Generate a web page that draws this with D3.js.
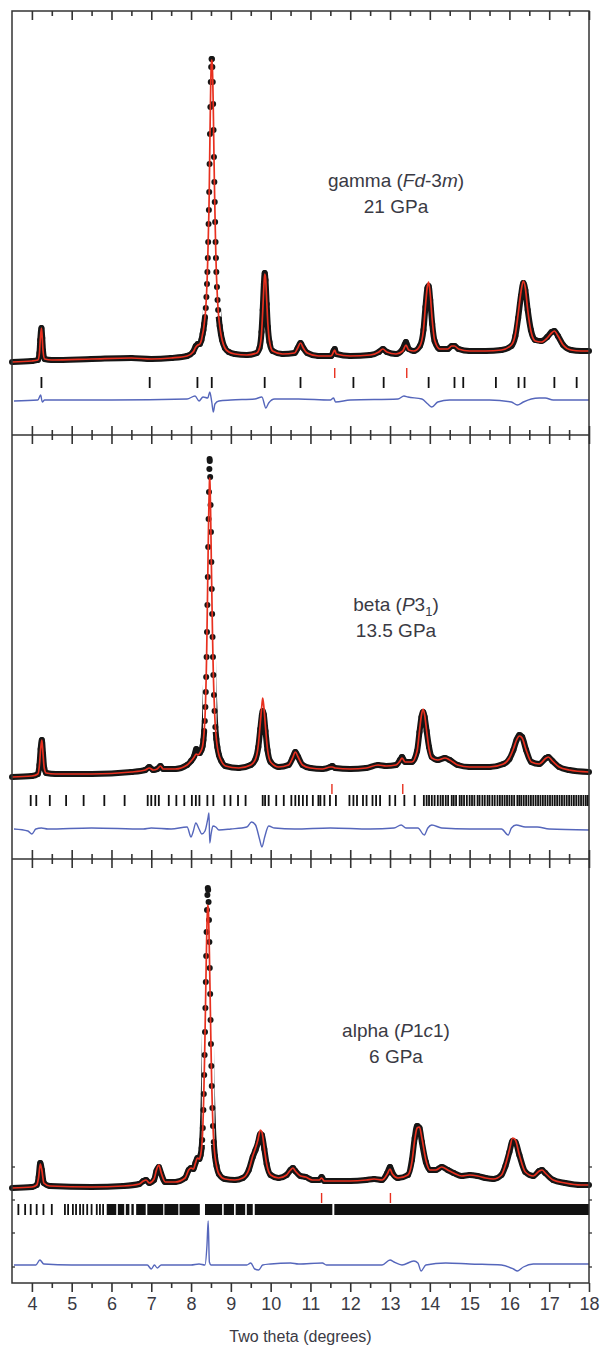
<!DOCTYPE html>
<html>
<head>
<meta charset="utf-8" />
<title>Two theta patterns</title>
<style>
  body { margin: 0; background: #fff; }
  svg text { font-family: "Liberation Sans", Arial, sans-serif; fill: #3a3a44; }
</style>
<script src="https://cdn.jsdelivr.net/npm/d3@7"></script>
</head>
<body>
<script>
// ---------- data (two theta in degrees, intensity in arbitrary units) ----------
var xTicks = [4, 5, 6, 7, 8, 9, 10, 11, 12, 13, 14, 15, 16, 17, 18];
var xMinorTicks = [4.5, 5.5, 6.5, 7.5, 8.5, 9.5, 10.5, 11.5, 12.5, 13.5, 14.5, 15.5, 16.5, 17.5];

// [two theta, observed, calculated]
var gammaProfile = [
  [3.50,0,0],[4.00,1,1],[4.15,2,2],[4.19,9,9],[4.21,22,22],[4.24,34,34],[4.26,24,24],[4.28,11,11],[4.32,3,3],[4.50,2,2],
  [5.50,3,3],[6.50,4,4],[7.00,3,3],[7.50,4,4],[7.90,6,6],[8.05,10,10],[8.12,16,15],[8.17,18,17],[8.22,18,18],
  [8.26,22,22],[8.29,28,28],[8.31,32,32],[8.33,38,38],[8.35,45,45],[8.37,54,54],[8.385,65,65],[8.40,78,78],[8.41,90,90],
  [8.42,104,104],[8.43,120,120],[8.44,138,137],[8.448,152,150],[8.456,170,168],[8.465,198,196],[8.475,228,226],[8.485,255,254],
  [8.495,280,279],[8.505,295,296],[8.515,303,302],[8.525,303,302],[8.535,295,296],[8.545,280,282],[8.555,258,262],
  [8.565,232,236],[8.575,205,208],[8.585,180,182],[8.595,160,160],[8.605,140,140],[8.615,120,120],[8.625,104,104],
  [8.635,90,90],[8.65,75,75],[8.665,62,62],[8.68,52,52],[8.70,43,43],[8.72,36,36],[8.75,28,28],[8.78,22,22],[8.85,14,14],
  [8.95,10,10],[9.10,8,8],[9.40,7,7],[9.65,9,9],[9.72,14,14],[9.77,30,28],[9.80,52,50],[9.83,78,76],
  [9.85,89,88],[9.87,82,85],[9.90,58,62],[9.93,35,38],[9.97,20,21],[10.05,11,11],[10.30,8,8],[10.60,9,9],[10.68,14,14],
  [10.75,19,19],[10.82,14,14],[10.92,9,9],[11.20,6,6],[11.52,6,6],[11.58,11,10],[11.61,13,12],[11.65,8,8],[12.00,6,6],
  [12.50,7,7],[12.72,10,10],[12.82,13,13],[12.92,10,10],[13.15,8,8],[13.32,13,11],[13.40,20,17],[13.47,13,12],[13.60,11,11],
  [13.75,16,16],[13.84,32,32],[13.89,55,56],[13.94,74,76],[13.97,76,80],[14.01,62,68],[14.06,38,42],[14.12,21,22],[14.25,13,13],
  [14.45,13,13],[14.55,16,16],[14.62,16,16],[14.72,13,13],[15.00,11,11],[15.40,11,11],[15.80,12,12],[16.05,16,17],[16.15,26,28],
  [16.22,44,48],[16.29,66,70],[16.35,79,81],[16.40,72,74],[16.46,52,52],[16.54,32,31],[16.65,22,21],[16.80,21,20],[16.95,25,24],
  [17.06,30,29],[17.13,31,31],[17.22,26,26],[17.35,17,17],[17.55,12,12],[17.80,11,11],[18.00,11,11]
];
var gammaDiff = [
  [3.55,-1],[4.15,0],[4.22,5],[4.26,-2],[4.32,0],[6.00,0],[7.90,1],[8.10,4],[8.20,-1],[8.30,3],[8.42,2],[8.47,8],[8.52,-2],
  [8.56,-12],[8.60,-4],[8.70,-1],[9.00,0],[9.60,1],[9.78,3],[9.88,-8],[9.95,-3],[10.10,1],[10.70,1],[11.50,0],[11.58,2],
  [11.63,-2],[12.00,0],[13.20,1],[13.35,4],[13.45,3],[13.80,1],[13.95,-4],[14.05,-7],[14.20,-2],[14.50,0],[15.50,0],[16.05,-2],
  [16.20,-5],[16.35,-2],[16.55,1],[16.75,2],[16.90,2],[17.10,0],[18.00,0]
];
var gammaTicks = [4.24, 6.96, 8.16, 8.52, 9.85, 10.75, 12.08, 12.84, 13.97, 14.62, 14.84, 15.66, 16.23, 16.38, 17.13, 17.69];
var gammaRedTicks = [11.61, 13.42];

var betaProfile = [
  [3.50,0,0],[4.00,1,1],[4.15,3,3],[4.19,12,12],[4.22,28,28],[4.25,37,37],[4.28,23,23],[4.31,9,9],[4.36,4,4],[4.60,3,3],
  [5.50,3,3],[6.50,5,5],[6.85,7,7],[6.95,10,9],[7.05,7,7],[7.15,8,8],[7.23,11,11],[7.30,8,8],[7.60,8,8],[7.90,12,12],
  [8.00,16,16],[8.08,21,20],[8.13,28,23],[8.18,24,22],[8.22,24,24],[8.26,27,27],[8.29,31,31],[8.31,37,37],[8.33,46,46],
  [8.345,56,56],[8.36,70,70],[8.37,85,85],[8.38,100,100],[8.39,120,120],[8.40,145,145],[8.41,172,172],[8.42,200,200],
  [8.43,230,229],[8.44,258,255],[8.45,285,276],[8.46,308,292],[8.465,318,299],[8.47,316,298],[8.48,300,288],[8.49,272,268],
  [8.50,245,242],[8.51,215,214],[8.52,188,188],[8.53,163,163],[8.54,140,140],[8.55,120,120],[8.56,102,102],[8.575,82,82],
  [8.59,66,66],[8.61,50,50],[8.635,38,38],[8.66,30,30],[8.70,22,22],[8.76,16,16],[8.86,11,11],[9.20,9,9],[9.50,12,12],
  [9.62,18,18],[9.69,30,32],[9.74,48,54],[9.78,62,72],[9.80,66,79],[9.83,62,70],[9.87,46,50],[9.92,27,28],[10.00,15,15],
  [10.20,10,10],[10.45,12,12],[10.55,19,19],[10.62,25,25],[10.69,20,20],[10.80,12,12],[11.00,9,9],[11.30,8,8],[11.50,10,10],
  [11.55,11,10],[11.62,9,9],[12.00,8,8],[12.40,9,9],[12.70,12,12],[12.90,11,11],[13.15,12,12],[13.25,17,16],[13.30,20,19],
  [13.38,15,15],[13.55,15,15],[13.68,26,26],[13.74,45,46],[13.79,60,62],[13.83,65,68],[13.87,60,62],[13.92,46,46],[13.98,30,28],
  [14.05,20,19],[14.20,17,17],[14.38,19,19],[14.50,17,17],[14.70,12,12],[15.00,10,10],[15.50,10,10],[15.85,13,13],[16.00,18,19],
  [16.10,27,28],[16.18,37,37],[16.25,42,41],[16.32,40,39],[16.42,27,27],[16.55,15,15],[16.75,13,13],[16.92,19,19],[16.98,20,20],
  [17.08,16,16],[17.25,10,10],[17.50,7,7],[18.00,5,5]
];
var betaDiff = [
  [3.55,0],[3.90,-2],[4.00,-5],[4.10,0],[4.24,1],[4.40,0],[5.50,1],[6.80,0],[7.00,1],[7.50,0],[7.90,2],[8.00,-8],[8.05,-3],
  [8.12,6],[8.20,0],[8.27,-5],[8.35,-2],[8.42,10],[8.45,16],[8.47,-14],[8.50,-6],[8.55,3],[8.62,2],[8.70,-1],[9.00,0],[9.40,2],
  [9.52,7],[9.62,4],[9.72,-10],[9.78,-18],[9.85,-8],[9.95,3],[10.10,1],[10.60,0],[11.50,1],[12.50,0],[13.10,1],[13.28,4],
  [13.40,1],[13.70,1],[13.86,-6],[13.95,1],[14.05,4],[14.30,1],[15.00,0],[15.80,0],[15.97,-6],[16.05,1],[16.17,4],[16.40,2],
  [16.70,2],[17.00,0],[18.00,-1]
];
var betaTicks = [
  3.97, 4.11, 4.45, 4.86, 5.30, 5.82, 6.33, 6.91, 7.00, 7.10, 7.19, 7.44, 7.63, 7.83, 8.02, 8.12, 8.21, 8.41, 8.56, 8.84,
  8.99, 9.18, 9.37, 9.80, 9.86, 9.95, 10.14, 10.33, 10.52, 10.62, 10.71, 10.81, 10.91, 11.06, 11.20, 11.25, 11.35, 11.49,
  11.64, 11.98, 12.08, 12.17, 12.32, 12.41, 12.56, 12.65, 12.75, 12.99, 13.13, 13.36, 13.62, 13.85, 13.92, 13.98, 14.05,
  14.12, 14.20, 14.27, 14.33, 14.40, 14.46, 14.55, 14.60, 14.66, 14.75, 14.80, 14.86, 14.93, 15.00, 15.06, 15.12, 15.20,
  15.25, 15.32, 15.38, 15.45, 15.50, 15.57, 15.63, 15.70, 15.76, 15.82, 15.88, 15.94, 16.00, 16.06, 16.12, 16.20, 16.25,
  16.30, 16.36, 16.42, 16.48, 16.54, 16.60, 16.66, 16.72, 16.78, 16.84, 16.90, 16.96, 17.02, 17.08, 17.14, 17.20, 17.26,
  17.32, 17.38, 17.44, 17.50, 17.56, 17.62, 17.68, 17.74, 17.80, 17.86, 17.92, 17.97
];
var betaRedTicks = [11.54, 13.32];

var alphaProfile = [
  [3.50,2,2],[4.00,3,3],[4.12,5,5],[4.17,13,13],[4.21,27,26],[4.25,20,20],[4.30,7,7],[4.45,4,4],[5.50,3,3],[6.30,4,4],
  [6.70,6,6],[6.80,9,9],[6.87,10,10],[6.95,7,7],[7.07,10,11],[7.13,19,20],[7.19,23,25],[7.25,16,17],[7.35,8,8],[7.60,8,8],
  [7.85,12,12],[7.94,20,20],[8.00,22,22],[8.06,21,21],[8.11,27,27],[8.16,32,32],[8.21,31,31],[8.24,35,35],[8.265,42,42],
  [8.28,50,50],[8.295,62,62],[8.31,80,80],[8.32,96,96],[8.33,115,114],[8.34,135,133],[8.35,158,155],[8.36,182,178],
  [8.37,208,202],[8.38,234,226],[8.39,258,248],[8.40,280,266],[8.41,295,279],[8.42,302,285],[8.43,300,283],[8.44,288,274],
  [8.45,270,258],[8.46,248,238],[8.47,222,215],[8.48,196,192],[8.49,170,168],[8.50,146,145],[8.51,124,124],[8.52,104,104],
  [8.535,82,82],[8.55,64,64],[8.57,48,48],[8.60,34,34],[8.64,24,24],[8.70,16,16],[8.85,11,11],[9.10,10,10],[9.30,12,12],
  [9.45,20,20],[9.55,33,34],[9.62,40,42],[9.68,47,50],[9.74,56,60],[9.78,55,58],[9.84,41,42],[9.90,26,26],[10.00,15,15],
  [10.20,12,12],[10.40,15,15],[10.50,20,20],[10.56,22,22],[10.62,19,19],[10.75,14,14],[10.88,13,13],[11.05,10,10],[11.22,10,10],
  [11.28,13,12],[11.35,9,9],[11.60,9,9],[12.00,9,9],[12.40,10,10],[12.60,11,11],[12.80,10,10],[12.93,17,16],[13.00,23,21],
  [13.06,17,16],[13.20,12,12],[13.45,15,15],[13.55,30,28],[13.62,52,50],[13.68,64,62],[13.74,62,63],[13.80,48,52],[13.90,28,30],
  [14.00,20,20],[14.15,20,20],[14.30,23,23],[14.45,20,20],[14.60,17,17],[14.80,14,14],[15.00,15,15],[15.20,14,14],[15.40,12,12],
  [15.60,11,11],[15.80,15,15],[15.90,24,25],[16.00,38,40],[16.08,49,52],[16.15,48,50],[16.25,35,35],[16.40,18,18],[16.60,14,14],
  [16.75,19,19],[16.82,20,20],[16.90,17,17],[17.10,10,10],[17.40,7,7],[17.80,5,5],[18.00,5,5]
];
var alphaDiff = [
  [3.55,0],[4.10,0],[4.20,5],[4.30,1],[5.00,0],[6.90,0],[7.00,-4],[7.08,0],[7.15,-3],[7.25,0],[8.00,0],[8.20,1],[8.35,0],
  [8.40,20],[8.43,44],[8.46,3],[8.50,0],[9.40,0],[9.50,2],[9.60,-4],[9.70,-5],[9.80,0],[10.00,1],[10.50,2],[10.70,1],[11.30,2],
  [11.40,0],[12.00,0],[12.80,0],[13.00,5],[13.10,3],[13.30,0],[13.60,4],[13.70,2],[13.78,-6],[13.90,0],[14.40,2],[15.00,1],
  [15.80,0],[16.10,-4],[16.20,-6],[16.35,-2],[16.60,1],[17.20,1],[18.00,1]
];
var alphaTicks = [3.66, 3.83, 3.97, 4.12, 4.29, 4.50, 4.83, 4.91, 5.03, 5.11, 5.21, 5.29, 5.39, 5.50, 5.63, 5.71, 5.79];
// reflections too close to separate, kept as [from, to] runs
var alphaTickRuns = [
  [5.88, 6.12], [6.16, 6.32], [6.36, 6.45], [6.50, 6.56], [6.62, 6.86], [6.90, 7.30], [7.33, 7.68], [7.71, 8.22],
  [8.35, 8.78], [8.82, 9.08], [9.12, 9.36], [9.40, 9.55], [9.60, 11.55], [11.60, 18.00]
];
var alphaRedTicks = [11.28, 13.01];

var gammaLabel = [["gamma (", false], ["Fd", true], ["-3", false], ["m", true], [")", false]];
var betaLabel = [["beta (", false], ["P", true], ["3", false], ["1", false, "sub"], [")", false]];
var alphaLabel = [["alpha (", false], ["P", true], ["1", false], ["c", true], ["1)", false]];
var pressures = ["21 GPa", "13.5 GPa", "6 GPa"];

// ---------- layout ----------
var W = 601, H = 1345;
var frameLeft = 12, frameRight = 589, frameTop = 11, frameBottom = 1283;
var dividers = [435, 859];
var sideTicksY = [1167, 1200, 1233, 1267];

var x = d3.scaleLinear().domain([3.5, 18]).range([frameLeft, frameRight]);

var svg = d3.select("body").append("svg")
    .attr("width", W)
    .attr("height", H);

var panels = [
  { profile: gammaProfile, diff: gammaDiff, ticks: gammaTicks, runs: [], red: gammaRedTicks, label: gammaLabel,
    top: frameTop, base: 362, diffBase: 400, tickY: 377, redY: 368, textY: 187, peak: [8.28, 8.76] },
  { profile: betaProfile, diff: betaDiff, ticks: betaTicks, runs: [], red: betaRedTicks, label: betaLabel,
    top: dividers[0], base: 777, diffBase: 829, tickY: 795, redY: 784, textY: 611, peak: [8.30, 8.64] },
  { profile: alphaProfile, diff: alphaDiff, ticks: alphaTicks, runs: alphaTickRuns, red: alphaRedTicks, label: alphaLabel,
    top: dividers[1], base: 1190, diffBase: 1265, tickY: 1204, redY: 1193, textY: 1037, peak: [8.27, 8.59] }
];

panels.forEach(function (p, i) {
  var y = d3.scaleLinear().domain([0, 100]).range([p.base, p.base - 100]);
  var yd = d3.scaleLinear().domain([0, 100]).range([p.diffBase, p.diffBase - 100]);
  var g = svg.append("g");

  // the thick observed band is not drawn on the tall main peak, where single points show
  var clipId = "band" + i;
  var clip = svg.append("clipPath").attr("id", clipId);
  clip.append("rect").attr("x", frameLeft).attr("width", frameRight - frameLeft)
      .attr("y", y(45)).attr("height", 80);
  clip.append("rect").attr("x", frameLeft).attr("width", x(p.peak[0]) - frameLeft)
      .attr("y", p.top).attr("height", p.base - p.top + 40);
  clip.append("rect").attr("x", x(p.peak[1])).attr("width", frameRight - x(p.peak[1]))
      .attr("y", p.top).attr("height", p.base - p.top + 40);

  var obsLine = d3.line()
      .x(function (d) { return x(d[0]); })
      .y(function (d) { return y(d[1]); })
      .curve(d3.curveMonotoneX);
  var calcLine = d3.line()
      .x(function (d) { return x(d[0]); })
      .y(function (d) { return y(d[2]); })
      .curve(d3.curveMonotoneX);
  var diffLine = d3.line()
      .x(function (d) { return x(d[0]); })
      .y(function (d) { return yd(d[1]); })
      .curve(d3.curveMonotoneX);

  // observed
  g.append("path")
      .datum(p.profile)
      .attr("d", obsLine)
      .attr("clip-path", "url(#" + clipId + ")")
      .attr("fill", "none")
      .attr("stroke", "#161616")
      .attr("stroke-width", 6)
      .attr("stroke-linejoin", "round");
  g.selectAll("circle.obs")
      .data(p.profile)
      .join("circle")
      .attr("class", "obs")
      .attr("cx", function (d) { return x(d[0]); })
      .attr("cy", function (d) { return y(d[1]); })
      .attr("r", 3)
      .attr("fill", "#161616");

  // calculated
  g.append("path")
      .datum(p.profile)
      .attr("d", calcLine)
      .attr("fill", "none")
      .attr("stroke", "#e8301f")
      .attr("stroke-width", 1.7);

  // reflection markers
  g.selectAll("line.refl")
      .data(p.ticks)
      .join("line")
      .attr("class", "refl")
      .attr("x1", function (d) { return x(d); })
      .attr("x2", function (d) { return x(d); })
      .attr("y1", p.tickY)
      .attr("y2", p.tickY + 11)
      .attr("stroke", "#111")
      .attr("stroke-width", 1.8);
  g.selectAll("rect.run")
      .data(p.runs)
      .join("rect")
      .attr("class", "run")
      .attr("x", function (d) { return x(d[0]); })
      .attr("width", function (d) { return x(d[1]) - x(d[0]); })
      .attr("y", p.tickY)
      .attr("height", 11)
      .attr("fill", "#111");
  g.selectAll("line.red")
      .data(p.red)
      .join("line")
      .attr("class", "red")
      .attr("x1", function (d) { return x(d); })
      .attr("x2", function (d) { return x(d); })
      .attr("y1", p.redY)
      .attr("y2", p.redY + 10)
      .attr("stroke", "#e8301f")
      .attr("stroke-width", 1.4);

  // difference
  g.append("path")
      .datum(p.diff)
      .attr("d", diffLine)
      .attr("fill", "none")
      .attr("stroke", "#5566bb")
      .attr("stroke-width", 1.4);

  // phase label
  var t = g.append("text")
      .attr("x", 396)
      .attr("y", p.textY)
      .attr("text-anchor", "middle")
      .style("font-size", "19px");
  var afterSub = false;
  p.label.forEach(function (s) {
    var ts = t.append("tspan").text(s[0]);
    if (s[1]) ts.style("font-style", "italic");
    if (s[2] === "sub") { ts.style("font-size", "13px").attr("dy", 5); afterSub = true; }
    else if (afterSub) { ts.attr("dy", -5); afterSub = false; }
  });
  g.append("text")
      .attr("x", 396)
      .attr("y", p.textY + 26)
      .attr("text-anchor", "middle")
      .style("font-size", "19px")
      .text(pressures[i]);
});

// ---------- frame and axes ----------
svg.append("rect")
    .attr("x", frameLeft).attr("y", frameTop)
    .attr("width", frameRight - frameLeft).attr("height", frameBottom - frameTop)
    .attr("fill", "none")
    .attr("stroke", "#333")
    .attr("stroke-width", 1.5);
dividers.forEach(function (d) {
  svg.append("line")
      .attr("x1", frameLeft).attr("x2", frameRight)
      .attr("y1", d).attr("y2", d)
      .attr("stroke", "#333").attr("stroke-width", 1.5);
});

function tickRow(y0, values, size) {
  var ax = svg.append("g")
      .attr("transform", "translate(0," + y0 + ")")
      .call(d3.axisBottom(x).tickValues(values).tickSize(size).tickSizeOuter(0).tickFormat(""));
  ax.select(".domain").remove();
  ax.selectAll("line").attr("stroke", "#333").attr("stroke-width", 1.6);
  return ax;
}

// top, inward
tickRow(frameTop, xTicks, 9);
tickRow(frameTop, xMinorTicks, 5);
// panel dividers, crossing
dividers.forEach(function (d) {
  tickRow(d - 9, xTicks, 18);
  tickRow(d - 5, xMinorTicks, 10);
});
// bottom axis, outward with labels
var bottomAxis = svg.append("g")
    .attr("transform", "translate(0," + frameBottom + ")")
    .call(d3.axisBottom(x).tickValues(xTicks).tickSize(9).tickSizeOuter(0).tickPadding(5).tickFormat(d3.format("d")));
bottomAxis.select(".domain").remove();
bottomAxis.selectAll("line").attr("stroke", "#333").attr("stroke-width", 1.6);
bottomAxis.selectAll("text")
    .attr("fill", "#3a3a44")
    .style("font-family", "'Liberation Sans', Arial, sans-serif")
    .style("font-size", "18px");
tickRow(frameBottom, xMinorTicks, 5);

// small intensity ticks on both sides of the lower panel
[frameLeft, frameRight].forEach(function (sx) {
  svg.selectAll(null)
      .data(sideTicksY)
      .join("line")
      .attr("x1", sx).attr("x2", sx + 3)
      .attr("y1", function (d) { return d; })
      .attr("y2", function (d) { return d; })
      .attr("stroke", "#333").attr("stroke-width", 1.3);
});

svg.append("text")
    .attr("x", (frameLeft + frameRight) / 2)
    .attr("y", 1342)
    .attr("text-anchor", "middle")
    .style("font-size", "16px")
    .text("Two theta (degrees)");
</script>
</body>
</html>
